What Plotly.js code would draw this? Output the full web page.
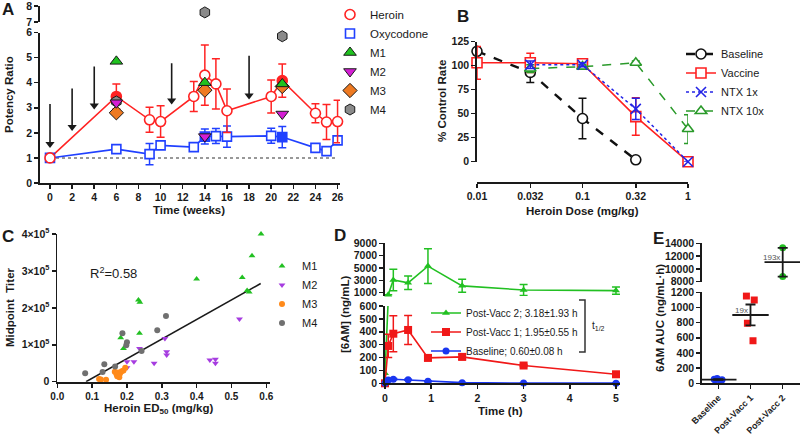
<!DOCTYPE html>
<html><head><meta charset="utf-8">
<script src="https://cdn.plot.ly/plotly-3.0.1.min.js"></script>
<style>html,body{margin:0;padding:0;background:#fff}#chart{width:800px;height:440px}</style>
</head><body><div id="chart"></div>
<script>
// ---------- Panel A: potency ratio over time ----------
const weeksA = [0, 6, 9, 10, 13, 14, 15, 16, 20, 21, 24, 25, 26];
const heroinPR = [1.0, 3.45, 2.52, 2.45, 3.45, 4.3, 3.95, 2.88, 3.45, 4.08, 2.78, 2.43, 2.45];
const heroinErr = [0.12, 0.5, 0.5, 0.63, 0.6, 1.2, 1.0, 0.87, 0.66, 0.66, 0.38, 0.7, 0.85];
const heroinFilled = [0, 1, 0, 0, 0, 0, 0, 0, 0, 1, 0, 0, 0];
const oxyPR = [1.0, 1.35, 1.15, 1.5, 1.43, 1.85, 1.87, 1.85, 1.88, 1.83, 1.4, 1.27, 1.7];
const oxyErr = [0.08, 0.15, 0.42, 0.15, 0.06, 0.3, 0.3, 0.42, 0.3, 0.42, 0.06, 0.06, 0.12];
const oxyFilled = [0, 0, 0, 0, 0, 1, 0, 0, 0, 1, 0, 0, 0];
const metabWeeks = [6, 14, 21];
const m1PR = [4.85, 4.0, 3.95];
const m2PR = [3.2, 1.85, 2.75];
const m3PR = [2.8, 3.7, 3.85];
const m4PR = [3.25, 7.6, 5.85];
const vaccWeeks = [0, 2, 4, 11, 18];
const arrowTail = [3.15, 3.77, 4.64, 4.77, 5.07];
const arrowHead = [1.55, 2.23, 3.09, 3.29, 3.49];
const unityRatio = 1;

// ---------- Panel B: dose response ----------
const doseTicks = [0.01, 0.032, 0.1, 0.32, 1];
const doseTickText = ['0.01', '0.032', '0.1', '0.32', '1'];
const doseBase = [0.01, 0.032, 0.1, 0.32];
const rateBase = [115, 93, 45, 2];
const errBase = [4, 10.5, 21, 0];
const doseVac = [0.01, 0.032, 0.1, 0.32, 1];
const rateVac = [103, 103, 102, 47, 0];
const errVac = [17, 10, 3, 19.5, 0];
const doseNtx1 = [0.032, 0.1, 0.32, 1];
const rateNtx1 = [101, 101, 55, 0];
const errNtx1 = [4, 2, 11, 0];
const doseNtx10 = [0.032, 0.1, 0.32, 1];
const rateNtx10 = [97, 99, 103, 34];
const errNtx10 = [4, 2, 2, 15];

// ---------- Panel C: titer vs ED50 ----------
const cM1x = [0.585, 0.559, 0.531, 0.551, 0.545, 0.4, 0.233, 0.237, 0.236, 0.182, 0.19];
const cM1y = [400000, 341000, 282000, 243000, 247000, 278000, 221000, 215000, 131000, 119000, 90000];
const cM2x = [0.236, 0.2, 0.2, 0.22, 0.278, 0.309, 0.314, 0.314, 0.523, 0.438, 0.454, 0.454];
const cM2y = [90000, 54000, 38000, 54000, 50000, 117000, 81000, 72000, 170000, 59000, 61000, 50000];
const cM3x = [0.12, 0.125, 0.14, 0.165, 0.17, 0.172, 0.175, 0.18, 0.185, 0.19, 0.195, 0.178];
const cM3y = [7000, 6000, 5000, 27000, 20000, 15000, 25000, 22000, 28000, 30000, 38000, 12000];
const cM4x = [0.08, 0.135, 0.166, 0.187, 0.2, 0.198, 0.242, 0.287, 0.312, 0.13];
const cM4y = [23000, 47000, 41000, 131000, 107000, 99000, 83000, 139000, 178000, 26000];
const fitX = [0.0825, 0.584];
const fitSlope = 530000;
const fitXIntercept = 0.0825;
const cTickVals = [0, 100000, 200000, 300000, 400000];
const cTickText = ['0', '1×10<sup>5</sup>', '2×10<sup>5</sup>', '3×10<sup>5</sup>', '4×10<sup>5</sup>'];

// ---------- Panel D: 6AM concentration over time ----------
const timeD = [0, 0.07, 0.18, 0.5, 0.93, 1.67, 3, 5];
const pv2D = [78, 650, 3050, 2600, 5300, 2100, 1430, 1330];
const pv2DErr = [0, 0, 1750, 1100, 2800, 1050, 900, 600];
const pv1D = [0, 290, 385, 414, 197, 205, 138, 70];
const pv1DErr = [0, 90, 140, 112, 20, 20, 8, 15];
const baseD = [0, 25, 32, 27, 15, 5, 2, 1];
const baseDErr = [0, 5, 5, 4, 3, 2, 1, 1];

// ---------- Panel E: AUC ----------
const groupsE = ['Baseline', 'Post-Vacc 1', 'Post-Vacc 2'];
const aucBase = [35, 48, 55, 62, 45];
const aucPV1 = [1099, 1151, 791, 562];
const aucPV2 = [13300, 8800];

// ---------- helpers ----------
const W = 800, H = 440;
const px = v => v / W;
const py = v => 1 - v / H;
const FONT = '"Liberation Sans", Arial, sans-serif';
const INK = '#1a1a1a';
const mean = a => a.reduce((s, v) => s + v, 0) / a.length;
const sem = a => { const m = mean(a); return Math.sqrt(a.reduce((s, v) => s + (v - m) * (v - m), 0) / (a.length - 1)) / Math.sqrt(a.length); };

function ax(extra) {
  return Object.assign({
    showline: true, linecolor: INK, linewidth: 1.8,
    ticks: 'outside', ticklen: 4, tickwidth: 1.5, tickcolor: INK,
    showgrid: false, zeroline: false, fixedrange: true, automargin: false,
    ticklabeloverflow: 'allow',
    tickfont: {family: FONT, size: 10.5, color: INK, weight: 'bold'}
  }, extra);
}

const RED = '#ff2323', BLUE = '#2040ff';
const MC = {m1: '#1fc21f', m2: '#d41ed4', m3: '#ee7a22', m4: '#8a8a8a'};
const traces = [];

// Panel A traces: vaccination arrows (shaft + head), built from the arrow arrays
const shaftX = [], shaftY = [];
vaccWeeks.forEach((w, i) => { shaftX.push(w, w, null); shaftY.push(arrowTail[i], arrowHead[i], null); });
traces.push({x: shaftX, y: shaftY, mode: 'lines', line: {color: INK, width: 1.6}, xaxis: 'x', yaxis: 'y', showlegend: false, hoverinfo: 'skip'});
traces.push({x: vaccWeeks, y: arrowHead, mode: 'markers', marker: {symbol: 'triangle-down', size: 8, color: INK},
  xaxis: 'x', yaxis: 'y', showlegend: false, hoverinfo: 'skip', cliponaxis: false});

traces.push({x: weeksA, y: oxyPR, mode: 'lines', line: {color: BLUE, width: 1.6}, xaxis: 'x', yaxis: 'y', showlegend: false, hoverinfo: 'skip'});
traces.push({x: weeksA, y: heroinPR, mode: 'lines', line: {color: RED, width: 1.6}, xaxis: 'x', yaxis: 'y', showlegend: false, hoverinfo: 'skip'});
traces.push({x: weeksA, y: oxyPR, mode: 'markers', name: 'Oxycodone', legend: 'legend', legendrank: 2,
  marker: {symbol: 'square', size: 9, color: oxyFilled.map(f => f ? BLUE : '#ffffff'), line: {color: BLUE, width: 1.6}},
  error_y: {type: 'data', array: oxyErr, color: BLUE, thickness: 1.5, width: 4}, cliponaxis: false, xaxis: 'x', yaxis: 'y'});
traces.push({x: weeksA, y: heroinPR, mode: 'markers', name: 'Heroin', legend: 'legend', legendrank: 1,
  marker: {symbol: 'circle', size: 10, color: heroinFilled.map(f => f ? RED : '#ffffff'), line: {color: RED, width: 1.6}},
  error_y: {type: 'data', array: heroinErr, color: RED, thickness: 1.5, width: 4}, cliponaxis: false, xaxis: 'x', yaxis: 'y'});
const metabs = [
  {name: 'M1', y: m1PR, sym: 'triangle-up', c: MC.m1, r: 3},
  {name: 'M2', y: m2PR, sym: 'triangle-down', c: MC.m2, r: 4},
  {name: 'M3', y: m3PR, sym: 'diamond', c: MC.m3, r: 5},
  {name: 'M4', y: m4PR, sym: 'hexagon', c: MC.m4, r: 6}
];
const drawOrder = [3, 2, 1, 0];
drawOrder.forEach(i => {
  const m = metabs[i];
  traces.push({x: metabWeeks, y: m.y.map(v => v <= 6 ? v : null), mode: 'markers', name: m.name, legend: 'legend', legendrank: m.r,
    marker: {symbol: m.sym, size: 11, color: m.c, line: {color: INK, width: 1}}, cliponaxis: false, xaxis: 'x', yaxis: 'y'});
  traces.push({x: metabWeeks, y: m.y.map(v => v >= 7 ? v : null), mode: 'markers', showlegend: false,
    marker: {symbol: m.sym, size: 11, color: m.c, line: {color: INK, width: 1}}, cliponaxis: false, xaxis: 'x', yaxis: 'y2'});
});

// Panel B traces
const bSeries = [
  {name: 'Baseline', x: doseBase, y: rateBase, e: errBase, c: '#111111', dash: 'dash', w: 2.4, sym: 'circle', fill: '#ffffff', r: 1},
  {name: 'Vaccine', x: doseVac, y: rateVac, e: errVac, c: '#ff2020', dash: 'solid', w: 1.6, sym: 'square', fill: '#ffffff', r: 2},
  {name: 'NTX 10x', x: doseNtx10, y: rateNtx10, e: errNtx10, c: '#2a9a2a', dash: 'dash', w: 1.5, sym: 'triangle-up', fill: '#ffffff', r: 4},
  {name: 'NTX 1x', x: doseNtx1, y: rateNtx1, e: errNtx1, c: '#2424e6', dash: 'dot', w: 1.5, sym: 'x-thin-open', fill: '#2424e6', r: 3}
];
bSeries.forEach(s => {
  traces.push({x: s.x, y: s.y, mode: 'lines+markers', name: s.name, legend: 'legend2', legendrank: s.r,
    line: {color: s.c, width: s.w, dash: s.dash},
    marker: {symbol: s.sym, size: 10, color: s.fill, line: {color: s.c, width: 1.6}},
    error_y: {type: 'data', array: s.e, color: s.c, thickness: 1.5, width: 4},
    cliponaxis: false, xaxis: 'x2', yaxis: 'y3'});
});

// Panel C traces
traces.push({x: fitX, y: fitX.map(v => fitSlope * (v - fitXIntercept)), mode: 'lines', line: {color: INK, width: 1.6},
  showlegend: false, xaxis: 'x3', yaxis: 'y4', hoverinfo: 'skip'});
[
  {name: 'M1', x: cM1x, y: cM1y, sym: 'triangle-up', c: '#22c022'},
  {name: 'M2', x: cM2x, y: cM2y, sym: 'triangle-down', c: '#a63ce0'},
  {name: 'M3', x: cM3x, y: cM3y, sym: 'circle', c: '#ff8a1a'},
  {name: 'M4', x: cM4x, y: cM4y, sym: 'circle', c: '#707070'}
].forEach((s, i) => {
  traces.push({x: s.x, y: s.y, mode: 'markers', name: s.name, legend: 'legend3', legendrank: i + 1,
    marker: {symbol: s.sym, size: 6, color: s.c}, cliponaxis: false, xaxis: 'x3', yaxis: 'y4'});
});

// Panel D traces
const GD = '#22c022', RD = '#f01818', BD = '#1a36f0';
traces.push({x: timeD, y: pv2D, mode: 'lines+markers', showlegend: false, line: {color: GD, width: 1.6},
  marker: {symbol: 'triangle-up', size: 7, color: GD}, xaxis: 'x4', yaxis: 'y5'});
traces.push({x: timeD, y: pv2D.map(v => v >= 454 ? v : null), mode: 'lines+markers', name: 'Post-Vacc 2; 3.18±1.93 h',
  legend: 'legend4', legendrank: 1, line: {color: GD, width: 1.6},
  marker: {symbol: 'triangle-up', size: 7, color: GD},
  error_y: {type: 'data', array: pv2DErr, color: GD, thickness: 1.5, width: 4}, cliponaxis: false, xaxis: 'x4', yaxis: 'y6'});
traces.push({x: timeD, y: pv1D, mode: 'lines+markers', name: 'Post-Vacc 1; 1.95±0.55 h', legend: 'legend4', legendrank: 2,
  line: {color: RD, width: 1.6}, marker: {symbol: 'square', size: 8, color: RD},
  error_y: {type: 'data', array: pv1DErr, color: RD, thickness: 1.5, width: 4}, cliponaxis: false, xaxis: 'x4', yaxis: 'y5'});
traces.push({x: timeD, y: baseD, mode: 'lines+markers', name: 'Baseline; 0.60±0.08 h', legend: 'legend4', legendrank: 3,
  line: {color: BD, width: 1.6}, marker: {symbol: 'circle', size: 7, color: BD},
  error_y: {type: 'data', array: baseDErr, color: BD, thickness: 1.5, width: 4}, cliponaxis: false, xaxis: 'x4', yaxis: 'y5'});

// Panel E traces
const eGroups = [
  {vals: aucBase, pos: 0, c: BD, sym: 'circle', yaxis: 'y7', jit: 0.6},
  {vals: aucPV1, pos: 1, c: '#f01818', sym: 'square', yaxis: 'y7', jit: 0.6},
  {vals: aucPV2, pos: 2, c: GD, sym: 'circle', yaxis: 'y8', jit: 0}
];
eGroups.forEach(g => {
  traces.push({type: 'box', x: g.vals.map(() => g.pos), y: g.vals, boxpoints: 'all', jitter: g.jit, pointpos: 0, width: 0.5,
    fillcolor: 'rgba(0,0,0,0)', line: {width: 0, color: 'rgba(0,0,0,0)'},
    marker: {symbol: g.sym, size: 7, color: g.c}, showlegend: false, hoverinfo: 'skip', xaxis: 'x5', yaxis: g.yaxis});
});
eGroups.forEach(g => {
  traces.push({x: [g.pos], y: [mean(g.vals)], mode: 'markers', showlegend: false,
    marker: {symbol: 'line-ew', size: 26, color: INK, line: {color: INK, width: 1.8}},
    error_y: {type: 'data', array: [sem(g.vals)], color: INK, thickness: 1.8, width: 5}, cliponaxis: false,
    xaxis: 'x5', yaxis: g.yaxis});
});

// ---------- annotations ----------
const ann = [];
const tFont = {family: FONT, size: 11.5, color: INK, weight: 'bold'};
const lFont = {family: FONT, size: 17, color: INK, weight: 'bold'};
function pTxt(text, x, y, opts) {
  ann.push(Object.assign({xref: 'paper', yref: 'paper', x: px(x), y: py(y), text, showarrow: false,
    xanchor: 'center', yanchor: 'middle', font: tFont}, opts || {}));
}
pTxt('A', 8, 10, {font: lFont});
pTxt('B', 463, 16, {font: lFont});
pTxt('C', 8, 236, {font: lFont});
pTxt('D', 340, 235, {font: lFont});
pTxt('E', 658, 238, {font: lFont});
pTxt('Potency Ratio', 9, 95, {textangle: -90});
pTxt('Time (weeks)', 189, 210);
pTxt('% Control Rate', 442, 101, {textangle: -90});
pTxt('Heroin Dose (mg/kg)', 582, 211);
pTxt('Midpoint  Titer', 10, 307, {textangle: -90});
pTxt('Heroin ED<sub>50</sub> (mg/kg)', 158, 409);
pTxt('[6AM] (ng/mL)', 345, 315, {textangle: -90});
pTxt('Time (h)', 500, 411);
pTxt('6AM AUC (ng/mL·h)', 660, 318, {textangle: -90});
pTxt('t<sub>1/2</sub>', 590, 326, {xanchor: 'left', font: {family: FONT, size: 10, color: INK}});
ann.push({xref: 'x3', yref: 'y4', x: 0.161, y: 295000, text: 'R<sup>2</sup>=0.58', showarrow: false,
  font: {family: FONT, size: 13, color: INK}});
ann.push({xref: 'x5', yref: 'y7', x: 1, y: 1230, text: '**', showarrow: false, font: {family: FONT, size: 11, color: INK, weight: 'bold'}});
ann.push({xref: 'x5', yref: 'y7', x: 1, y: mean(aucPV1), text: '19x', showarrow: false, xanchor: 'right', yanchor: 'bottom',
  xshift: -1, yshift: -2, font: {family: FONT, size: 8, color: '#555'}});
ann.push({xref: 'x5', yref: 'y8', x: 2, y: mean(aucPV2), text: '193x', showarrow: false, xanchor: 'right', yanchor: 'bottom',
  xshift: -1, yshift: -2, font: {family: FONT, size: 8, color: '#555'}});

const shapes = [
  {type: 'line', xref: 'x', yref: 'y', x0: weeksA[0], x1: weeksA[weeksA.length - 1], y0: unityRatio, y1: unityRatio,
    line: {color: '#777', width: 1.5, dash: 'dot'}, layer: 'below'},
  {type: 'path', xref: 'paper', yref: 'paper',
    path: `M ${px(579)},${py(300)} L ${px(585)},${py(300)} L ${px(585)},${py(352)} L ${px(579)},${py(352)}`,
    line: {color: '#333', width: 1.5}}
];

const legBase = {bgcolor: 'rgba(0,0,0,0)', borderwidth: 0, xanchor: 'left', yanchor: 'top', itemwidth: 30,
  traceorder: 'normal', font: {family: FONT, size: 11.5, color: INK}};

const layout = {
  width: W, height: H, margin: {l: 0, r: 0, t: 0, b: 0},
  paper_bgcolor: '#fff', plot_bgcolor: 'rgba(0,0,0,0)', showlegend: true,
  font: {family: FONT, color: INK},
  // Panel A
  xaxis: ax({domain: [px(40), px(340)], range: [-0.904, 26.22], anchor: 'y', tickvals: [0,2,4,6,8,10,12,14,16,18,20,22,24,26]}),
  yaxis: ax({domain: [py(183), py(32.5)], range: [0, 6], anchor: 'x', dtick: 1}),
  yaxis2: ax({domain: [py(22), py(6)], range: [7, 8], anchor: 'x', tickvals: [7, 8], ticktext: ['7', '8']}),
  // Panel B
  xaxis2: ax({type: 'log', domain: [px(477), px(688)], range: [-2, 0], anchor: 'free', position: py(182),
    tickvals: doseTicks, ticktext: doseTickText}),
  yaxis3: ax({domain: [py(161.7), py(41.7)], range: [0, 125], anchor: 'x2', dtick: 25}),
  // Panel C
  xaxis3: ax({domain: [px(57.3), px(270)], range: [0, 0.6107], anchor: 'y4', dtick: 0.1, tickformat: '.1f',
    tickfont: {family: FONT, size: 10, color: INK, weight: 'bold'}}),
  yaxis4: ax({domain: [py(381.7), py(234)], range: [0, 400000], anchor: 'x3', tickvals: cTickVals, ticktext: cTickText}),
  // Panel D
  xaxis4: ax({domain: [px(385), px(620)], range: [0, 5.087], anchor: 'y5', dtick: 1}),
  yaxis5: ax({domain: [py(383.3), py(306)], range: [0, 600], anchor: 'x4', dtick: 100}),
  yaxis6: ax({domain: [py(296), py(243.3)], range: [454, 9000], anchor: 'x4', tickvals: [1000, 3000, 5000, 7000, 9000], tickformat: 'd'}),
  // Panel E
  xaxis5: ax({domain: [px(702), px(800)], range: [-0.506, 2.537], anchor: 'y7', tickvals: [0, 1, 2], ticktext: groupsE,
    tickangle: -45, tickfont: {family: FONT, size: 9, color: INK, weight: 'bold'}}),
  yaxis7: ax({domain: [py(383.3), py(292.3)], range: [0, 1200], anchor: 'x5', dtick: 200, tickformat: 'd'}),
  yaxis8: ax({domain: [py(281.7), py(243.3)], range: [8000, 14000], anchor: 'x5', tickvals: [8000, 10000, 12000, 14000], tickformat: 'd'}),
  legend: Object.assign({}, legBase, {x: px(330), y: py(0)}),
  legend2: Object.assign({}, legBase, {x: px(681), y: py(39.5), font: {family: FONT, size: 11, color: INK}}),
  legend3: Object.assign({}, legBase, {x: px(262), y: py(251.5), font: {family: FONT, size: 11, color: INK}}),
  legend4: Object.assign({}, legBase, {x: px(426), y: py(298.5), font: {family: FONT, size: 10, color: INK}}),
  annotations: ann,
  shapes: shapes,
  boxmode: 'overlay'
};

Plotly.newPlot('chart', traces, layout, {displayModeBar: false, staticPlot: true});
</script></body></html>
